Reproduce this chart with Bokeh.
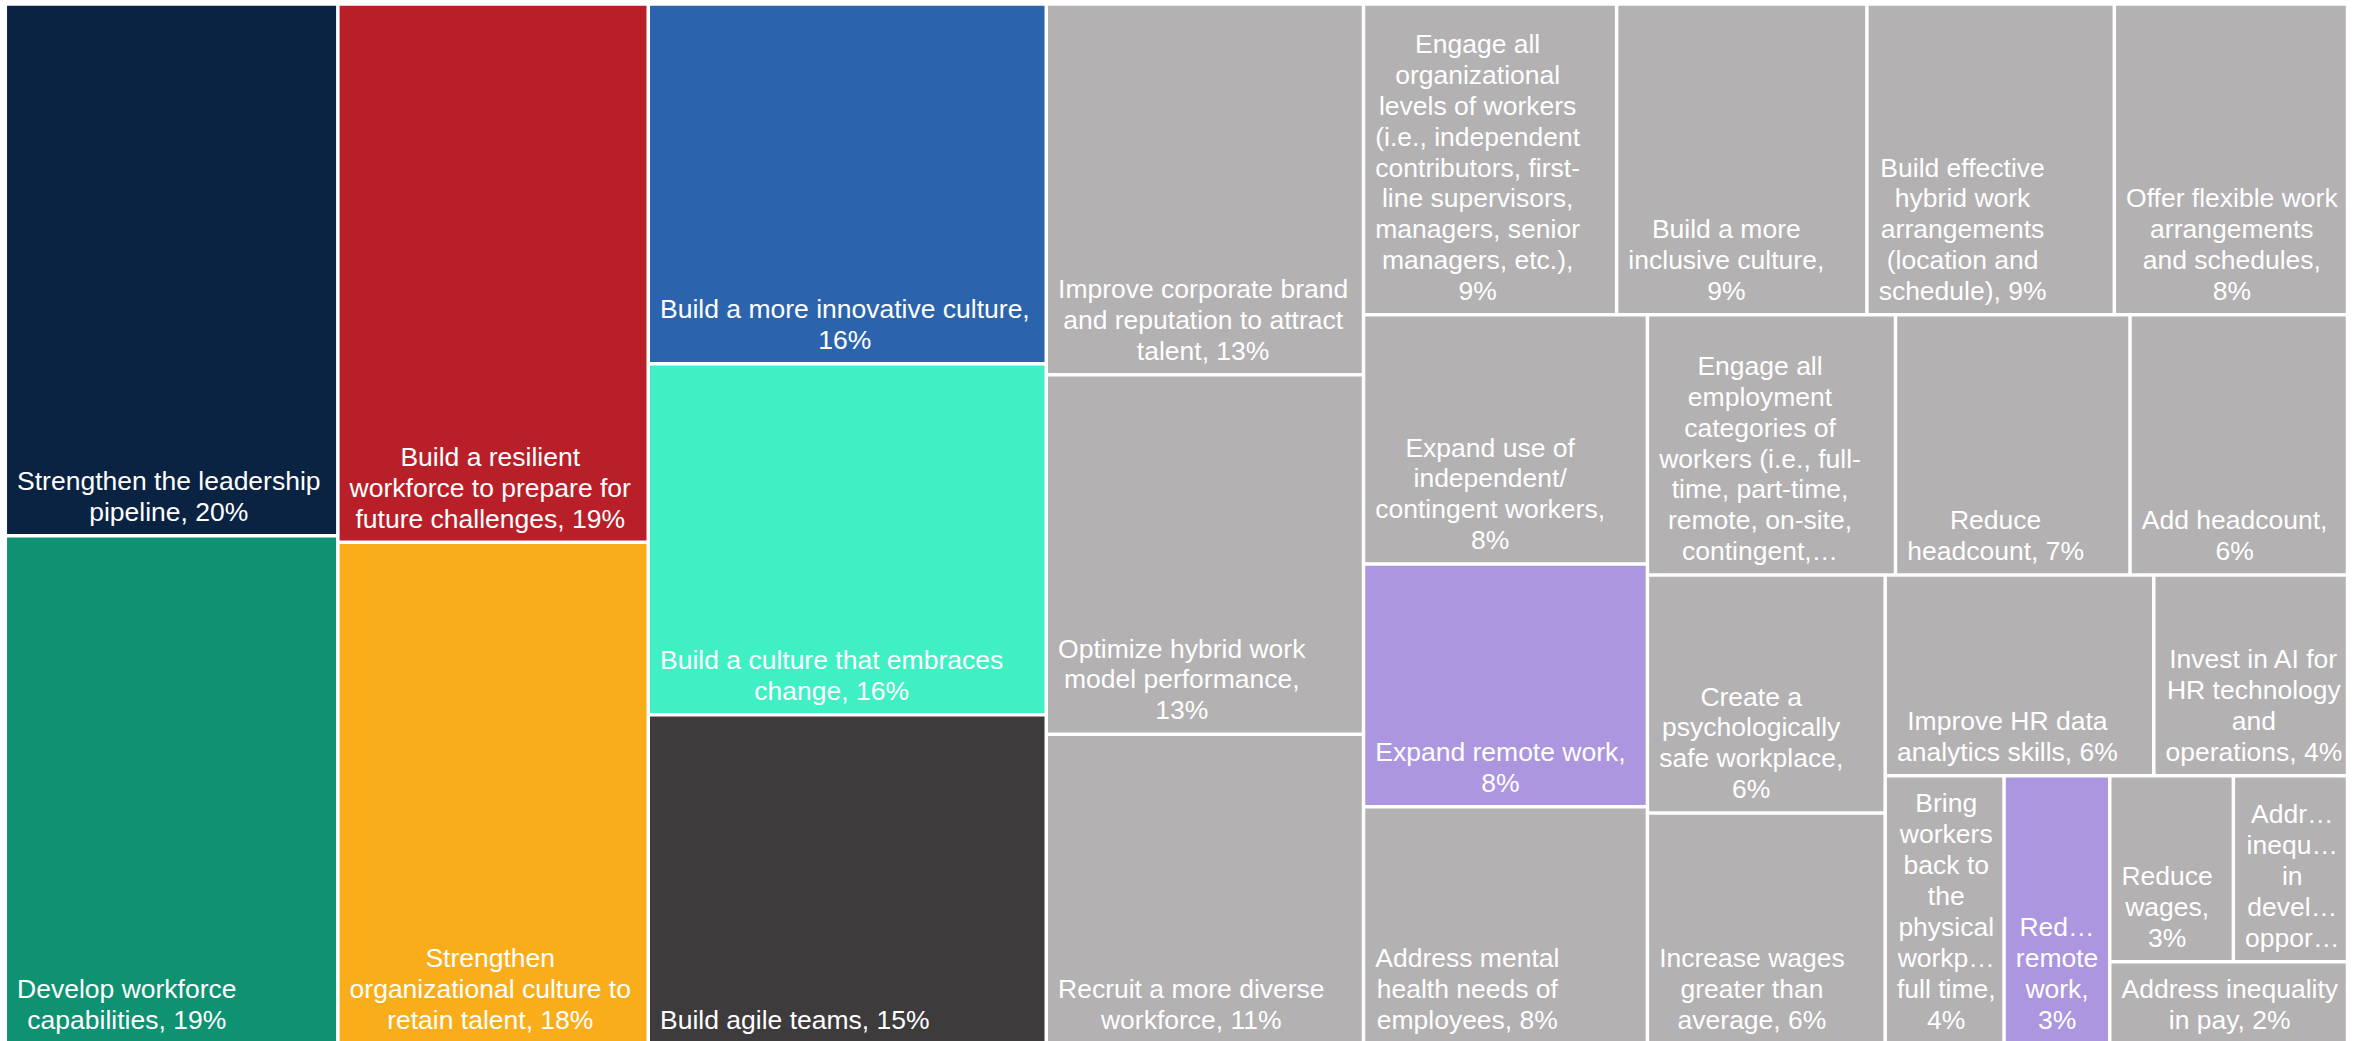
from bokeh.plotting import figure
from bokeh.models import Range1d, ColumnDataSource
from bokeh.core.properties import value
from bokeh.embed import file_html
from bokeh.resources import INLINE

# ---- data (percent of respondents) ----
labels = [
    "Strengthen the leadership\npipeline, 20%",
    "Develop workforce\ncapabilities, 19%",
    "Build a resilient\nworkforce to prepare for\nfuture challenges, 19%",
    "Strengthen\norganizational culture to\nretain talent, 18%",
    "Build a more innovative culture,\n16%",
    "Build a culture that embraces\nchange, 16%",
    "Build agile teams, 15%",
    "Improve corporate brand\nand reputation to attract\ntalent, 13%",
    "Optimize hybrid work\nmodel performance,\n13%",
    "Recruit a more diverse\nworkforce, 11%",
    "Engage all\norganizational\nlevels of workers\n(i.e., independent\ncontributors, first-\nline supervisors,\nmanagers, senior\nmanagers, etc.),\n9%",
    "Build a more\ninclusive culture,\n9%",
    "Build effective\nhybrid work\narrangements\n(location and\nschedule), 9%",
    "Offer flexible work\narrangements\nand schedules,\n8%",
    "Expand use of\nindependent/\ncontingent workers,\n8%",
    "Expand remote work,\n8%",
    "Address mental\nhealth needs of\nemployees, 8%",
    "Engage all\nemployment\ncategories of\nworkers (i.e., full-\ntime, part-time,\nremote, on-site,\ncontingent,\u2026",
    "Reduce\nheadcount, 7%",
    "Add headcount,\n6%",
    "Create a\npsychologically\nsafe workplace,\n6%",
    "Increase wages\ngreater than\naverage, 6%",
    "Improve HR data\nanalytics skills, 6%",
    "Invest in AI for\nHR technology\nand\noperations, 4%",
    "Bring\nworkers\nback to\nthe\nphysical\nworkp\u2026\nfull time,\n4%",
    "Red\u2026\nremote\nwork,\n3%",
    "Reduce\nwages,\n3%",
    "Addr\u2026\ninequ\u2026\nin\ndevel\u2026\noppor\u2026",
    "Address inequality\nin pay, 2%",
]
values = [20.0, 19.1, 18.9, 17.6, 16.2, 15.8, 14.8, 13.3, 12.9, 11.1,
          8.9, 8.8, 8.7, 8.2, 8.0, 7.8, 7.6, 7.3, 6.9, 6.4,
          6.4, 6.2, 6.1, 4.4, 3.6, 3.2, 2.6, 2.4, 2.2]
# number of tiles in each successive strip of the treemap
strip_sizes = [2, 2, 3, 3, 4, 3, 3, 2, 2, 1, 1, 2, 1]

GRAY = "#b3b1b2"
LAV = "#ab96df"
colors = ["#0a2342", "#0e9271", "#b91f28", "#faad1b", "#2b64ad", "#40f0c4", "#3d3b3c",
          GRAY, GRAY, GRAY, GRAY, GRAY, GRAY, GRAY, GRAY, LAV, GRAY, GRAY, GRAY, GRAY,
          GRAY, GRAY, GRAY, GRAY, GRAY, LAV, GRAY, GRAY, GRAY]


def strip_layout(vals, sizes, x0, y0, x1, y1):
    rects = []
    total = sum(vals)
    i = 0
    for n in sizes:
        grp = vals[i:i + n]
        s = sum(grp)
        w, h = x1 - x0, y1 - y0
        if w >= h:
            cw = w * s / total
            yy = y0
            for v in grp:
                ch = h * v / s
                rects.append((x0, yy, x0 + cw, yy + ch))
                yy += ch
            x0 += cw
        else:
            rh = h * s / total
            xx = x0
            for v in grp:
                cwd = w * v / s
                rects.append((xx, y0, xx + cwd, y0 + rh))
                xx += cwd
            y0 += rh
        total -= s
        i += n
    return rects


rects = strip_layout(values, strip_sizes, 4.8, 3.5, 2347.0, 1043.0)
GAP = 1.75
left = [r[0] + GAP for r in rects]
right = [r[2] - GAP for r in rects]
top = [r[1] + GAP for r in rects]
bottom = [r[3] - GAP for r in rects]

src = ColumnDataSource(dict(left=left, right=right, top=top, bottom=bottom, color=colors,
                            tx=[l + 10 for l in left], ty=[b - 7 for b in bottom], label=labels))

p = figure(width=2366, height=1041, output_backend="svg", toolbar_location=None,
           x_range=Range1d(0, 2366), y_range=Range1d(1041, 0), min_border=0)
p.axis.visible = False
p.grid.visible = False
p.outline_line_color = None
p.background_fill_color = "white"
p.border_fill_color = "white"

p.quad(left="left", right="right", top="top", bottom="bottom", fill_color="color",
       line_color=None, source=src)
p.text(x="tx", y="ty", text="label", source=src, anchor="bottom_left", text_align="center",
       text_color="white", text_font=value("Liberation Sans"), text_font_size="26.5px",
       text_line_height=1.03)

open("out.html", "w").write(file_html(p, INLINE))
